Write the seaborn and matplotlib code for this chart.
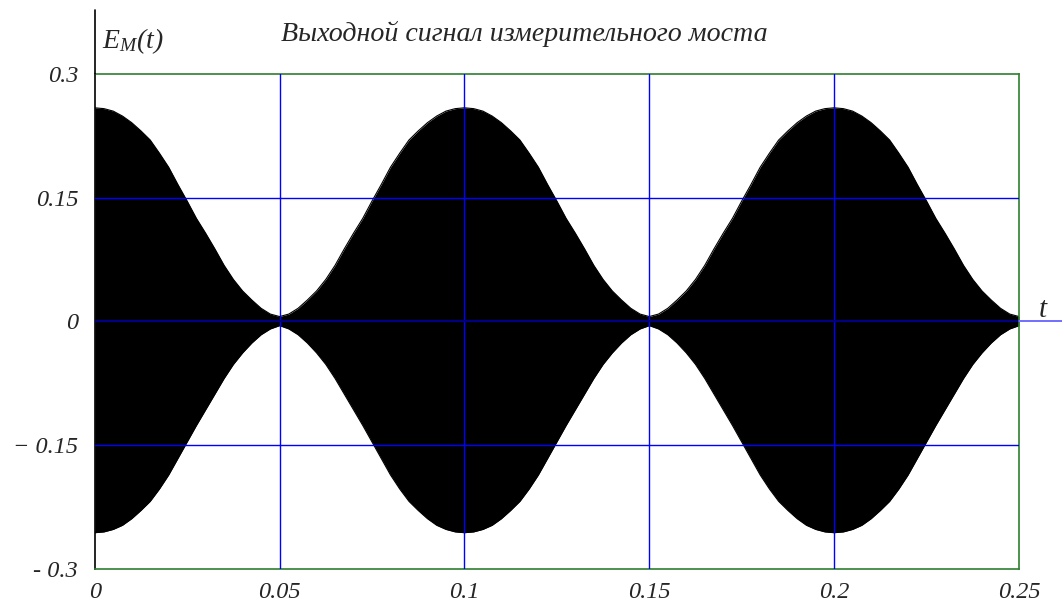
import numpy as np
import pandas as pd
import matplotlib
import matplotlib.pyplot as plt
import seaborn as sns

matplotlib.use("Agg")

# ---- data (envelope of the modulated signal) ----
t_vals = np.round(np.arange(0, 0.25001, 0.0025), 4)

upper_env = [
    0.259, 0.258, 0.255, 0.249, 0.241, 0.231, 0.220, 0.204, 0.187, 0.166,
    0.146, 0.125, 0.107, 0.088, 0.068, 0.051, 0.037, 0.026, 0.016, 0.009,
    0.006, 0.009, 0.016, 0.026, 0.037, 0.051, 0.068, 0.088, 0.107, 0.125,
    0.146, 0.166, 0.187, 0.204, 0.220, 0.231, 0.241, 0.249, 0.255, 0.258,
    0.259, 0.258, 0.255, 0.249, 0.241, 0.231, 0.220, 0.204, 0.187, 0.166,
    0.146, 0.125, 0.107, 0.088, 0.068, 0.051, 0.037, 0.026, 0.016, 0.009,
    0.006, 0.009, 0.016, 0.026, 0.037, 0.051, 0.068, 0.088, 0.107, 0.125,
    0.146, 0.166, 0.187, 0.204, 0.220, 0.231, 0.241, 0.249, 0.255, 0.258,
    0.259, 0.258, 0.255, 0.249, 0.241, 0.231, 0.220, 0.204, 0.187, 0.166,
    0.146, 0.125, 0.107, 0.088, 0.068, 0.051, 0.037, 0.026, 0.016, 0.009,
    0.006,
]
lower_env = [
    -0.256, -0.255, -0.252, -0.247, -0.239, -0.229, -0.218, -0.203, -0.186, -0.166,
    -0.146, -0.126, -0.107, -0.088, -0.069, -0.052, -0.038, -0.026, -0.016, -0.009,
    -0.005, -0.009, -0.016, -0.026, -0.038, -0.052, -0.069, -0.088, -0.107, -0.126,
    -0.146, -0.166, -0.186, -0.203, -0.218, -0.229, -0.239, -0.247, -0.252, -0.255,
    -0.256, -0.255, -0.252, -0.247, -0.239, -0.229, -0.218, -0.203, -0.186, -0.166,
    -0.146, -0.126, -0.107, -0.088, -0.069, -0.052, -0.038, -0.026, -0.016, -0.009,
    -0.005, -0.009, -0.016, -0.026, -0.038, -0.052, -0.069, -0.088, -0.107, -0.126,
    -0.146, -0.166, -0.186, -0.203, -0.218, -0.229, -0.239, -0.247, -0.252, -0.255,
    -0.256, -0.255, -0.252, -0.247, -0.239, -0.229, -0.218, -0.203, -0.186, -0.166,
    -0.146, -0.126, -0.107, -0.088, -0.069, -0.052, -0.038, -0.026, -0.016, -0.009,
    -0.005,
]

x_ticks = [0, 0.05, 0.1, 0.15, 0.2, 0.25]
x_labels = ["0", "0.05", "0.1", "0.15", "0.2", "0.25"]
y_ticks = [-0.3, -0.15, 0, 0.15, 0.3]
y_labels = ["- 0.3", "\u2212 0.15", "0", "0.15", "0.3"]

title = "Выходной сигнал измерительного моста"

df = pd.DataFrame({"t": t_vals, "upper": upper_env, "lower": lower_env})

# ---- style ----
sns.set_style("white")
plt.rcParams["font.family"] = ["Liberation Serif", "DejaVu Serif"]
plt.rcParams["font.style"] = "italic"
plt.rcParams["mathtext.fontset"] = "custom"
plt.rcParams["mathtext.it"] = "Liberation Serif:italic"
plt.rcParams["mathtext.rm"] = "Liberation Serif:italic"

fig = plt.figure(figsize=(10.62, 6.02), dpi=100)
ax = fig.add_axes([0.0892, 0.0548, 0.8703, 0.8223])

# filled envelope
ax.fill_between(df["t"], df["lower"], df["upper"], color="black", lw=0, zorder=2)
sns.lineplot(data=df, x="t", y="upper", color="black", lw=0.8, ax=ax, zorder=2)
sns.lineplot(data=df, x="t", y="lower", color="black", lw=0.8, ax=ax, zorder=2)

# grid lines on top of the fill
for xv in x_ticks[1:-1]:
    ax.axvline(xv, color="#0000ff", lw=1.0, zorder=3)
for yv in [-0.15, 0.15]:
    ax.axhline(yv, color="#0000ff", lw=1.0, zorder=3)
ax.axhline(0, color="#000080", lw=1.6, zorder=3)
# zero line continues past the right frame
ax.plot([0.25, 0.2625], [0, 0], color="#6f6fff", lw=1.4, clip_on=False, zorder=3)

ax.set_xlim(0, 0.25)
ax.set_ylim(-0.3, 0.3)
ax.set_xticks(x_ticks)
ax.set_xticklabels(x_labels, fontsize=17.5, style="italic")
ax.set_yticks(y_ticks)
ax.set_yticklabels(y_labels, fontsize=17.5, style="italic")
ax.tick_params(axis="both", length=0)
ax.tick_params(axis="x", pad=9)
ax.tick_params(axis="y", pad=12)
ax.set_xlabel("")
ax.set_ylabel("")

# frame: black left axis, green remaining borders
for side in ["top", "right", "bottom"]:
    ax.spines[side].set_color("#2f7f2f")
    ax.spines[side].set_linewidth(1.2)
ax.spines["left"].set_color("black")
ax.spines["left"].set_linewidth(1.2)
ax.plot([0, 0], [0.3, 0.3 + 64 / 495 * 0.6], color="black", lw=1.2,
        clip_on=False, zorder=4)

# texts
fig.text(0.494, 0.943, title, fontsize=20.2, style="italic",
         ha="center", va="center")
fig.text(0.096, 0.932, r"$\mathit{E_{M}(t)}$", fontsize=20,
         ha="left", va="center")
fig.text(0.982, 0.485, "t", fontsize=21, style="italic",
         ha="center", va="center")

plt.savefig("out.png", dpi=100)
plt.close()
